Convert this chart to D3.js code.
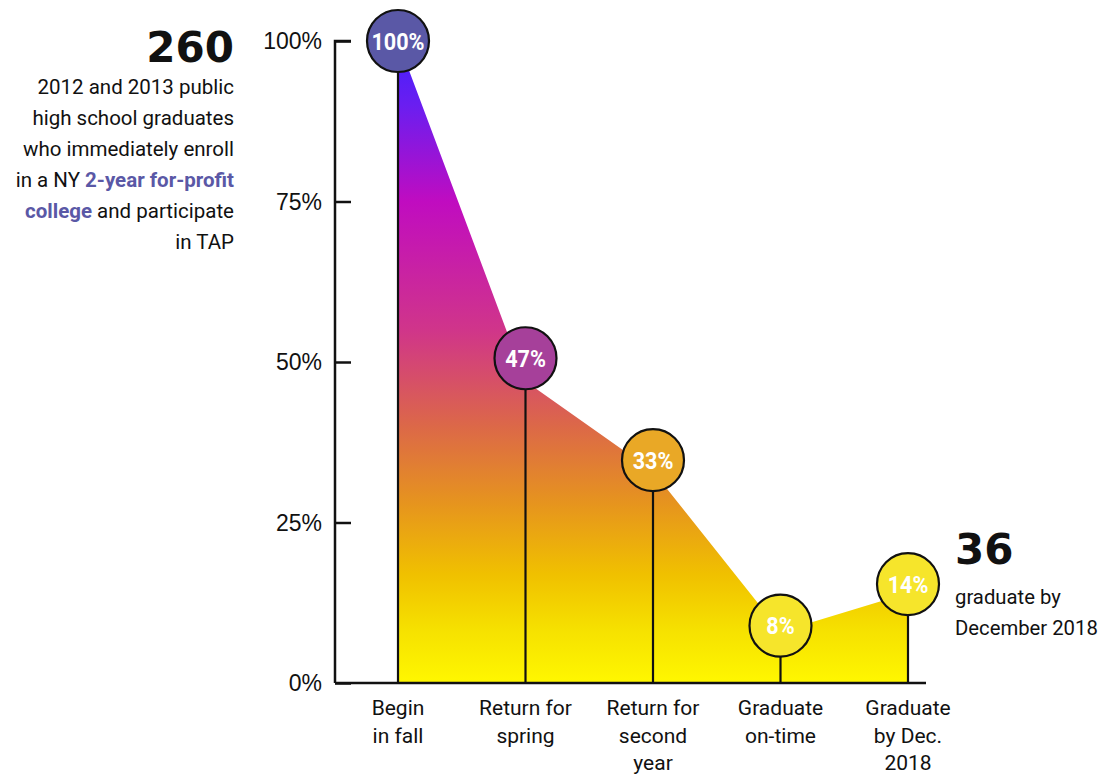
<!DOCTYPE html>
<html><head><meta charset="utf-8">
<script src="https://cdn.jsdelivr.net/npm/d3@7"></script>
<style>
html,body{margin:0;padding:0;background:#fff;}
svg{display:block;}
</style></head>
<body>
<svg id="chart" width="1103" height="774"></svg>
<script>
// ---- data ----
const categories = ["Begin in fall", "Return for spring", "Return for second year", "Graduate on-time", "Graduate by Dec. 2018"];
const categoryLines = [["Begin","in fall"],["Return for","spring"],["Return for","second","year"],["Graduate","on-time"],["Graduate","by Dec.","2018"]];
const values = [1.00, 0.47, 0.33, 0.08, 0.14];
const bubbleLabels = ["100%", "47%", "33%", "8%", "14%"];
const bubbleColors = ["#5a58a6", "#a6409a", "#e9a826", "#f6e52b", "#f6e52b"];
const yTicks = [0, 0.25, 0.5, 0.75, 1];
const tickLabels = ["0%", "25%", "50%", "75%", "100%"];
const leftNumber = "260";
const rightNumber = "36";
const rightLines = ["graduate by", "December 2018"];

// ---- layout ----
const svg = d3.select("#chart");
const x = d3.scalePoint().domain(categories).range([398, 908]);
const y = d3.scaleLinear().domain([0, 1]).range([683, 41]);
const bubbleLift = [0, 23, 11, 6, 9];
const R = 31;
const condensed = "Roboto, 'Noto Sans', sans-serif";

// gradient
const defs = svg.append("defs");
const grad = defs.append("linearGradient").attr("id", "g").attr("gradientUnits", "userSpaceOnUse")
  .attr("x1", 0).attr("x2", 0).attr("y1", y(1)).attr("y2", y(0));
[[0, "#3f1fff"], [0.1, "#6a1ef0"], [0.25, "#c00cc0"], [0.45, "#d0358a"], [0.6, "#dc6848"], [0.72, "#e6941e"], [0.83, "#f0c000"], [0.92, "#f6e200"], [1, "#fff700"]]
  .forEach(([o, c]) => grad.append("stop").attr("offset", o).attr("stop-color", c));

const data = categories.map((c, i) => ({c, v: values[i], i}));

// area
svg.append("path").datum(data)
  .attr("d", d3.area().x(d => x(d.c)).y0(y(0)).y1(d => y(d.v)))
  .attr("fill", "url(#g)");

// stems
svg.selectAll(".stem").data(data).enter().append("line")
  .attr("x1", d => x(d.c)).attr("x2", d => x(d.c))
  .attr("y1", y(0)).attr("y2", d => y(d.v) - bubbleLift[d.i])
  .attr("stroke", "#111").attr("stroke-width", 2.2);

// axes
const yAxis = d3.axisRight(y).tickValues(yTicks).tickSize(16).tickFormat("");
const gy = svg.append("g").attr("transform", "translate(335,0)").call(yAxis);
gy.select(".domain").attr("stroke", "#111").attr("stroke-width", 2.5).attr("d", `M16,${y(1)}H0V${y(0)}`);
gy.selectAll(".tick line").attr("stroke", "#111").attr("stroke-width", 2.5);
svg.selectAll(".ylab").data(yTicks).enter().append("text")
  .attr("x", 322).attr("y", d => y(d) + 8).attr("text-anchor", "end")
  .attr("font-family", "'Liberation Sans', Arial, sans-serif").attr("font-size", 23).attr("fill", "#111")
  .text((d, i) => tickLabels[i]);

svg.append("line").attr("x1", 335).attr("x2", 926).attr("y1", y(0)).attr("y2", y(0))
  .attr("stroke", "#111").attr("stroke-width", 2.5);

// bubbles
svg.selectAll(".bub").data(data).enter().append("circle")
  .attr("cx", d => x(d.c)).attr("cy", d => y(d.v) - bubbleLift[d.i]).attr("r", R)
  .attr("fill", d => bubbleColors[d.i]).attr("stroke", "#111").attr("stroke-width", 2.2);
svg.selectAll(".blab").data(data).enter().append("text")
  .attr("transform", d => `translate(${x(d.c)},${y(d.v) - bubbleLift[d.i] + 8.5}) scale(0.9,1)`)
  .attr("text-anchor", "middle").attr("font-family", condensed).attr("font-weight", 700)
  .attr("font-size", 24).attr("fill", "#fff").text(d => bubbleLabels[d.i]);

// category labels
data.forEach(d => {
  categoryLines[d.i].forEach((line, k) => {
    svg.append("text")
      .attr("transform", `translate(${x(d.c)},${715 + k * 27.5})`)
      .attr("text-anchor", "middle").attr("font-family", condensed).attr("font-size", 21)
      .attr("fill", "#111").text(line);
  });
});

// left annotation
svg.append("text").attr("x", 234).attr("y", 62).attr("text-anchor", "end")
  .attr("font-family", "'DejaVu Sans', sans-serif").attr("font-weight", 900).attr("font-size", 42)
  .attr("fill", "#111").text(leftNumber);
const leftLines = [
  [["2012 and 2013 public", false]],
  [["high school graduates", false]],
  [["who immediately enroll", false]],
  [["in a NY ", false], ["2-year for-profit", true]],
  [["college", true], [" and participate", false]],
  [["in TAP", false]]
];
leftLines.forEach((parts, k) => {
  const t = svg.append("text")
    .attr("transform", `translate(234,${94 + k * 31}) scale(1,1)`)
    .attr("text-anchor", "end").attr("font-family", condensed).attr("font-size", 20.5).attr("fill", "#111");
  parts.forEach(([s, b]) => {
    const ts = t.append("tspan").text(s);
    if (b) ts.attr("font-weight", 700).attr("fill", "#5a58a6");
  });
});

// right annotation
svg.append("text").attr("x", 955).attr("y", 564)
  .attr("font-family", "'DejaVu Sans', sans-serif").attr("font-weight", 900).attr("font-size", 42)
  .attr("fill", "#111").text(rightNumber);
rightLines.forEach((s, k) => {
  svg.append("text").attr("transform", `translate(955,${604 + k * 31}) scale(0.99,1)`)
    .attr("font-family", condensed).attr("font-size", 20.5).attr("fill", "#111").text(s);
});
</script>
</body></html>
